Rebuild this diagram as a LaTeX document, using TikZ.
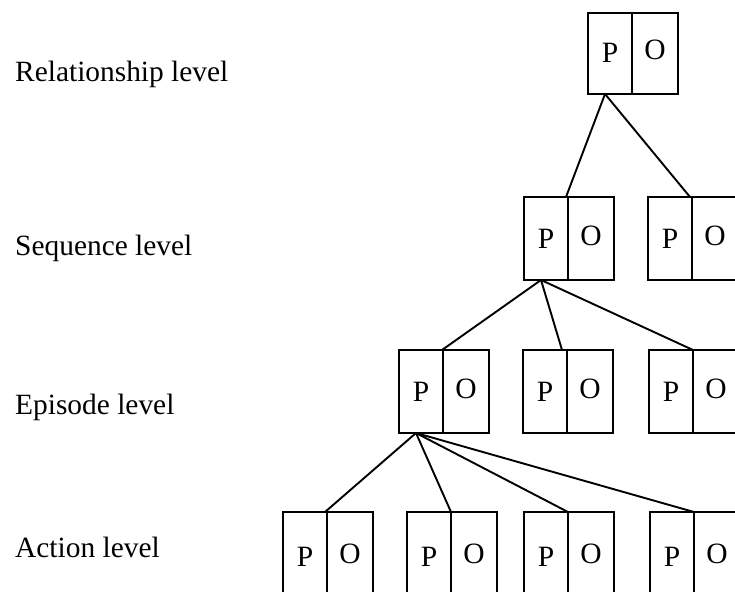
\documentclass[tikz,border=0pt]{standalone}
\usepackage{fontspec}
\setmainfont{Liberation Serif}
\begin{document}
\begin{tikzpicture}[x=1pt,y=-1pt,
  half/.style={draw,line width=1.9pt,minimum height=83pt,inner sep=0pt,outer sep=0pt,
    anchor=north west,font=\fontsize{29.5}{34}\selectfont},
  phalf/.style={half,minimum width=44pt,text height=19pt,text depth=0pt},
  ohalf/.style={half,minimum width=46pt,text height=13pt,text depth=0pt},
  lvl/.style={anchor=base west,inner sep=0pt,font=\fontsize{29.4}{35}\selectfont},
  link/.style={line width=1.9pt}]
\clip (0,0) rectangle (735,591);
% level labels
\node[lvl] (l1) at (15,82) {Relationship level};
\node[lvl] (l2) at (15,255) {Sequence level};
\node[lvl] (l3) at (15,414) {Episode level};
\node[lvl] (l4) at (15,557) {Action level};
% boxes
\newcommand\pobox[4]{%
  \node[phalf,minimum height=#4] (#1-p) at (#2,#3) {P};
  \node[ohalf,minimum height=#4] (#1-o) at (#1-p.north east) {O};
  \coordinate (#1-a) at ([xshift=17pt]#1-p.south west);}
\pobox{r}{588}{13}{81pt}
\pobox{s1}{524}{197}{83pt}
\pobox{s2}{648}{197}{83pt}
\pobox{e1}{399}{350}{83pt}
\pobox{e2}{523}{350}{83pt}
\pobox{e3}{649}{350}{83pt}
\pobox{a1}{283}{512}{90pt}
\pobox{a2}{407}{512}{90pt}
\pobox{a3}{524}{512}{90pt}
\pobox{a4}{650}{512}{90pt}
% connectors
\draw[link] (r-a) -- ([xshift=-2pt]s1-p.north east);
\draw[link] (r-a) -- ([xshift=-2pt]s2-p.north east);
\draw[link] (s1-a) -- ([xshift=-1pt]e1-p.north east);
\draw[link] (s1-a) -- ([xshift=-5pt]e2-p.north east);
\draw[link] (s1-a) -- (e3-p.north east);
\draw[link] (e1-a) -- ([xshift=-2pt]a1-p.north east);
\draw[link] (e1-a) -- (a2-p.north east);
\draw[link] (e1-a) -- (a3-p.north east);
\draw[link] (e1-a) -- (a4-p.north east);
\end{tikzpicture}
\end{document}
